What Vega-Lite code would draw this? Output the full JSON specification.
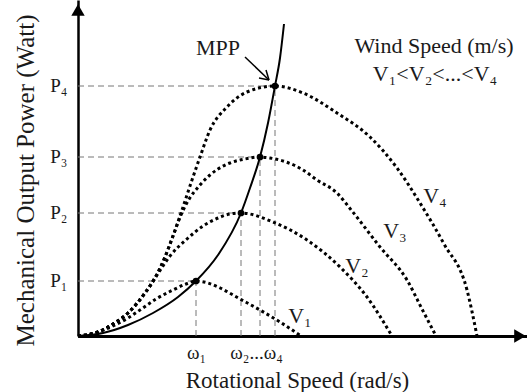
{
  "$schema": "https://vega.github.io/schema/vega-lite/v6.json",
  "width": 449,
  "height": 336,
  "autosize": {"type": "none"},
  "padding": {"left": 78, "top": 0, "right": 0, "bottom": 56},
  "background": "white",
  "config": {
    "view": {"stroke": null},
    "axis": {
      "grid": false, "ticks": false, "tickSize": 0,
      "labelFont": "Liberation Serif", "titleFont": "Liberation Serif",
      "labelColor": "#1a1a1a", "titleColor": "#1a1a1a", "domainColor": "black",
      "titleFontWeight": "normal", "labelFontSize": 19, "titleFontSize": 23,
      "labelOverlap": false, "labelBound": false, "labelFlush": false
    }
  },
  "datasets": {
    "curves": [
      {"curve": "V1", "x": 0, "y": 0}, {"curve": "V1", "x": 20, "y": 4}, {"curve": "V1", "x": 35, "y": 10}, {"curve": "V1", "x": 50, "y": 18}, {"curve": "V1", "x": 62, "y": 26}, {"curve": "V1", "x": 78, "y": 37}, {"curve": "V1", "x": 95, "y": 46}, {"curve": "V1", "x": 108, "y": 52}, {"curve": "V1", "x": 118, "y": 55}, {"curve": "V1", "x": 130, "y": 53}, {"curve": "V1", "x": 140, "y": 49}, {"curve": "V1", "x": 162, "y": 37}, {"curve": "V1", "x": 182, "y": 26}, {"curve": "V1", "x": 202, "y": 14}, {"curve": "V1", "x": 223, "y": 0},
      {"curve": "V2", "x": 0, "y": 0}, {"curve": "V2", "x": 20, "y": 4}, {"curve": "V2", "x": 35, "y": 12}, {"curve": "V2", "x": 50, "y": 23}, {"curve": "V2", "x": 67, "y": 43}, {"curve": "V2", "x": 79, "y": 61}, {"curve": "V2", "x": 92, "y": 80}, {"curve": "V2", "x": 109, "y": 97}, {"curve": "V2", "x": 125, "y": 110}, {"curve": "V2", "x": 140, "y": 118}, {"curve": "V2", "x": 152, "y": 122}, {"curve": "V2", "x": 163, "y": 123}, {"curve": "V2", "x": 195, "y": 114}, {"curve": "V2", "x": 229, "y": 96}, {"curve": "V2", "x": 262, "y": 69}, {"curve": "V2", "x": 289, "y": 39}, {"curve": "V2", "x": 314, "y": 0},
      {"curve": "V3", "x": 0, "y": 0}, {"curve": "V3", "x": 20, "y": 4}, {"curve": "V3", "x": 35, "y": 12}, {"curve": "V3", "x": 50, "y": 23}, {"curve": "V3", "x": 67, "y": 43}, {"curve": "V3", "x": 77, "y": 58}, {"curve": "V3", "x": 87, "y": 79}, {"curve": "V3", "x": 95, "y": 100}, {"curve": "V3", "x": 103, "y": 121}, {"curve": "V3", "x": 110, "y": 135}, {"curve": "V3", "x": 122, "y": 151}, {"curve": "V3", "x": 132, "y": 161}, {"curve": "V3", "x": 140, "y": 167}, {"curve": "V3", "x": 152, "y": 173}, {"curve": "V3", "x": 167, "y": 177}, {"curve": "V3", "x": 182, "y": 179}, {"curve": "V3", "x": 192, "y": 178}, {"curve": "V3", "x": 225, "y": 166}, {"curve": "V3", "x": 239, "y": 156}, {"curve": "V3", "x": 259, "y": 143}, {"curve": "V3", "x": 274, "y": 125}, {"curve": "V3", "x": 302, "y": 89}, {"curve": "V3", "x": 329, "y": 56}, {"curve": "V3", "x": 344, "y": 27}, {"curve": "V3", "x": 358, "y": 0},
      {"curve": "V4", "x": 0, "y": 0}, {"curve": "V4", "x": 20, "y": 4}, {"curve": "V4", "x": 35, "y": 12}, {"curve": "V4", "x": 50, "y": 23}, {"curve": "V4", "x": 67, "y": 43}, {"curve": "V4", "x": 77, "y": 58}, {"curve": "V4", "x": 87, "y": 79}, {"curve": "V4", "x": 95, "y": 100}, {"curve": "V4", "x": 103, "y": 123}, {"curve": "V4", "x": 114, "y": 156}, {"curve": "V4", "x": 122, "y": 179}, {"curve": "V4", "x": 132, "y": 206}, {"curve": "V4", "x": 149, "y": 229}, {"curve": "V4", "x": 169, "y": 244}, {"curve": "V4", "x": 197, "y": 250}, {"curve": "V4", "x": 225, "y": 243}, {"curve": "V4", "x": 259, "y": 223}, {"curve": "V4", "x": 292, "y": 199}, {"curve": "V4", "x": 319, "y": 168}, {"curve": "V4", "x": 342, "y": 133}, {"curve": "V4", "x": 366, "y": 92}, {"curve": "V4", "x": 389, "y": 46}, {"curve": "V4", "x": 399, "y": 0},
      {"curve": "MPP", "x": 0, "y": 0}, {"curve": "MPP", "x": 25, "y": 3}, {"curve": "MPP", "x": 50, "y": 11}, {"curve": "MPP", "x": 75, "y": 23}, {"curve": "MPP", "x": 100, "y": 39}, {"curve": "MPP", "x": 118, "y": 55}, {"curve": "MPP", "x": 140, "y": 81}, {"curve": "MPP", "x": 163, "y": 123}, {"curve": "MPP", "x": 172, "y": 148}, {"curve": "MPP", "x": 182, "y": 179}, {"curve": "MPP", "x": 190, "y": 213}, {"curve": "MPP", "x": 197, "y": 250}, {"curve": "MPP", "x": 202, "y": 278}, {"curve": "MPP", "x": 206, "y": 312}
    ],
    "peaks": [
      {"x": 118, "y": 55}, {"x": 163, "y": 123}, {"x": 182, "y": 179}, {"x": 197, "y": 250}
    ],
    "segs": [
      {"kind": "guide", "x": 0, "y": 55, "x2": 118, "y2": 55},
      {"kind": "guide", "x": 0, "y": 123, "x2": 163, "y2": 123},
      {"kind": "guide", "x": 0, "y": 179, "x2": 182, "y2": 179},
      {"kind": "guide", "x": 0, "y": 250, "x2": 197, "y2": 250},
      {"kind": "guide", "x": 118, "y": 0, "x2": 118, "y2": 55},
      {"kind": "guide", "x": 163, "y": 0, "x2": 163, "y2": 123},
      {"kind": "guide", "x": 182, "y": 0, "x2": 182, "y2": 179},
      {"kind": "guide", "x": 197, "y": 0, "x2": 197, "y2": 250},
      {"kind": "arrow", "x": 167, "y": 279, "x2": 191, "y2": 256},
      {"kind": "arrow", "x": 191, "y": 256, "x2": 188, "y2": 266},
      {"kind": "arrow", "x": 191, "y": 256, "x2": 181, "y2": 258}
    ],
    "heads": [
      {"dir": "up", "x": 0, "y": 326},
      {"dir": "right", "x": 442, "y": 0}
    ],
    "notes": [
      {"t": "MPP", "x": 140, "y": 281},
      {"t": "Wind Speed (m/s)", "x": 356, "y": 283},
      {"t": "V₁<V₂<...<V₄", "x": 357, "y": 255},
      {"t": "V₄", "x": 357, "y": 133},
      {"t": "V₃", "x": 317, "y": 98},
      {"t": "V₂", "x": 279, "y": 63},
      {"t": "V₁", "x": 222, "y": 13}
    ]
  },
  "encoding": {
    "x": {
      "field": "x", "type": "quantitative",
      "scale": {"domain": [0, 449], "nice": false, "zero": false},
      "axis": {
        "title": "Rotational Speed (rad/s)",
        "values": [118, 178],
        "labelExpr": "datum.value == 118 ? 'ω₁' : 'ω₂...ω₄'",
        "domainWidth": 3, "labelPadding": 22, "labelBaseline": "alphabetic",
        "titleX": 219, "titleY": 51, "titleBaseline": "alphabetic", "titleAlign": "center"
      }
    },
    "y": {
      "field": "y", "type": "quantitative",
      "scale": {"domain": [0, 336], "nice": false, "zero": false},
      "axis": {
        "title": "Mechanical Output Power (Watt)",
        "values": [55, 123, 179, 250],
        "labelExpr": "datum.value == 55 ? 'P₁' : datum.value == 123 ? 'P₂' : datum.value == 179 ? 'P₃' : 'P₄'",
        "domainWidth": 2.5, "labelPadding": 11, "labelBaseline": "alphabetic", "labelOffset": 5,
        "titleFontSize": 25,
        "titleX": -45, "titleY": 180, "titleAngle": -90, "titleBaseline": "alphabetic", "titleAlign": "center"
      }
    }
  },
  "layer": [
    {
      "data": {"name": "segs"},
      "transform": [{"filter": "datum.kind == 'guide'"}],
      "mark": {"type": "rule", "color": "#777777", "strokeWidth": 1, "strokeDash": [6, 4]},
      "encoding": {"x2": {"field": "x2"}, "y2": {"field": "y2"}}
    },
    {
      "data": {"name": "curves"},
      "transform": [{"filter": "datum.curve != 'MPP'"}],
      "mark": {"type": "line", "interpolate": "monotone", "color": "black", "strokeWidth": 3, "strokeDash": [3, 3], "strokeCap": "butt"},
      "encoding": {"detail": {"field": "curve"}}
    },
    {
      "data": {"name": "curves"},
      "transform": [{"filter": "datum.curve == 'MPP'"}],
      "mark": {"type": "line", "interpolate": "monotone", "color": "black", "strokeWidth": 2}
    },
    {
      "data": {"name": "peaks"},
      "mark": {"type": "point", "filled": true, "color": "black", "size": 45, "opacity": 1}
    },
    {
      "data": {"name": "segs"},
      "transform": [{"filter": "datum.kind == 'arrow'"}],
      "mark": {"type": "rule", "color": "black", "strokeWidth": 1.5},
      "encoding": {"x2": {"field": "x2"}, "y2": {"field": "y2"}}
    },
    {
      "data": {"name": "heads"},
      "transform": [{"filter": "datum.dir == 'up'"}],
      "mark": {"type": "point", "shape": "triangle-up", "filled": true, "color": "black", "size": 180, "opacity": 1}
    },
    {
      "data": {"name": "heads"},
      "transform": [{"filter": "datum.dir == 'right'"}],
      "mark": {"type": "point", "shape": "triangle-right", "filled": true, "color": "black", "size": 180, "opacity": 1}
    },
    {
      "data": {"name": "notes"},
      "mark": {"type": "text", "font": "Liberation Serif", "fontSize": 22, "align": "center", "baseline": "alphabetic", "color": "#1a1a1a"},
      "encoding": {"text": {"field": "t"}}
    }
  ]
}
